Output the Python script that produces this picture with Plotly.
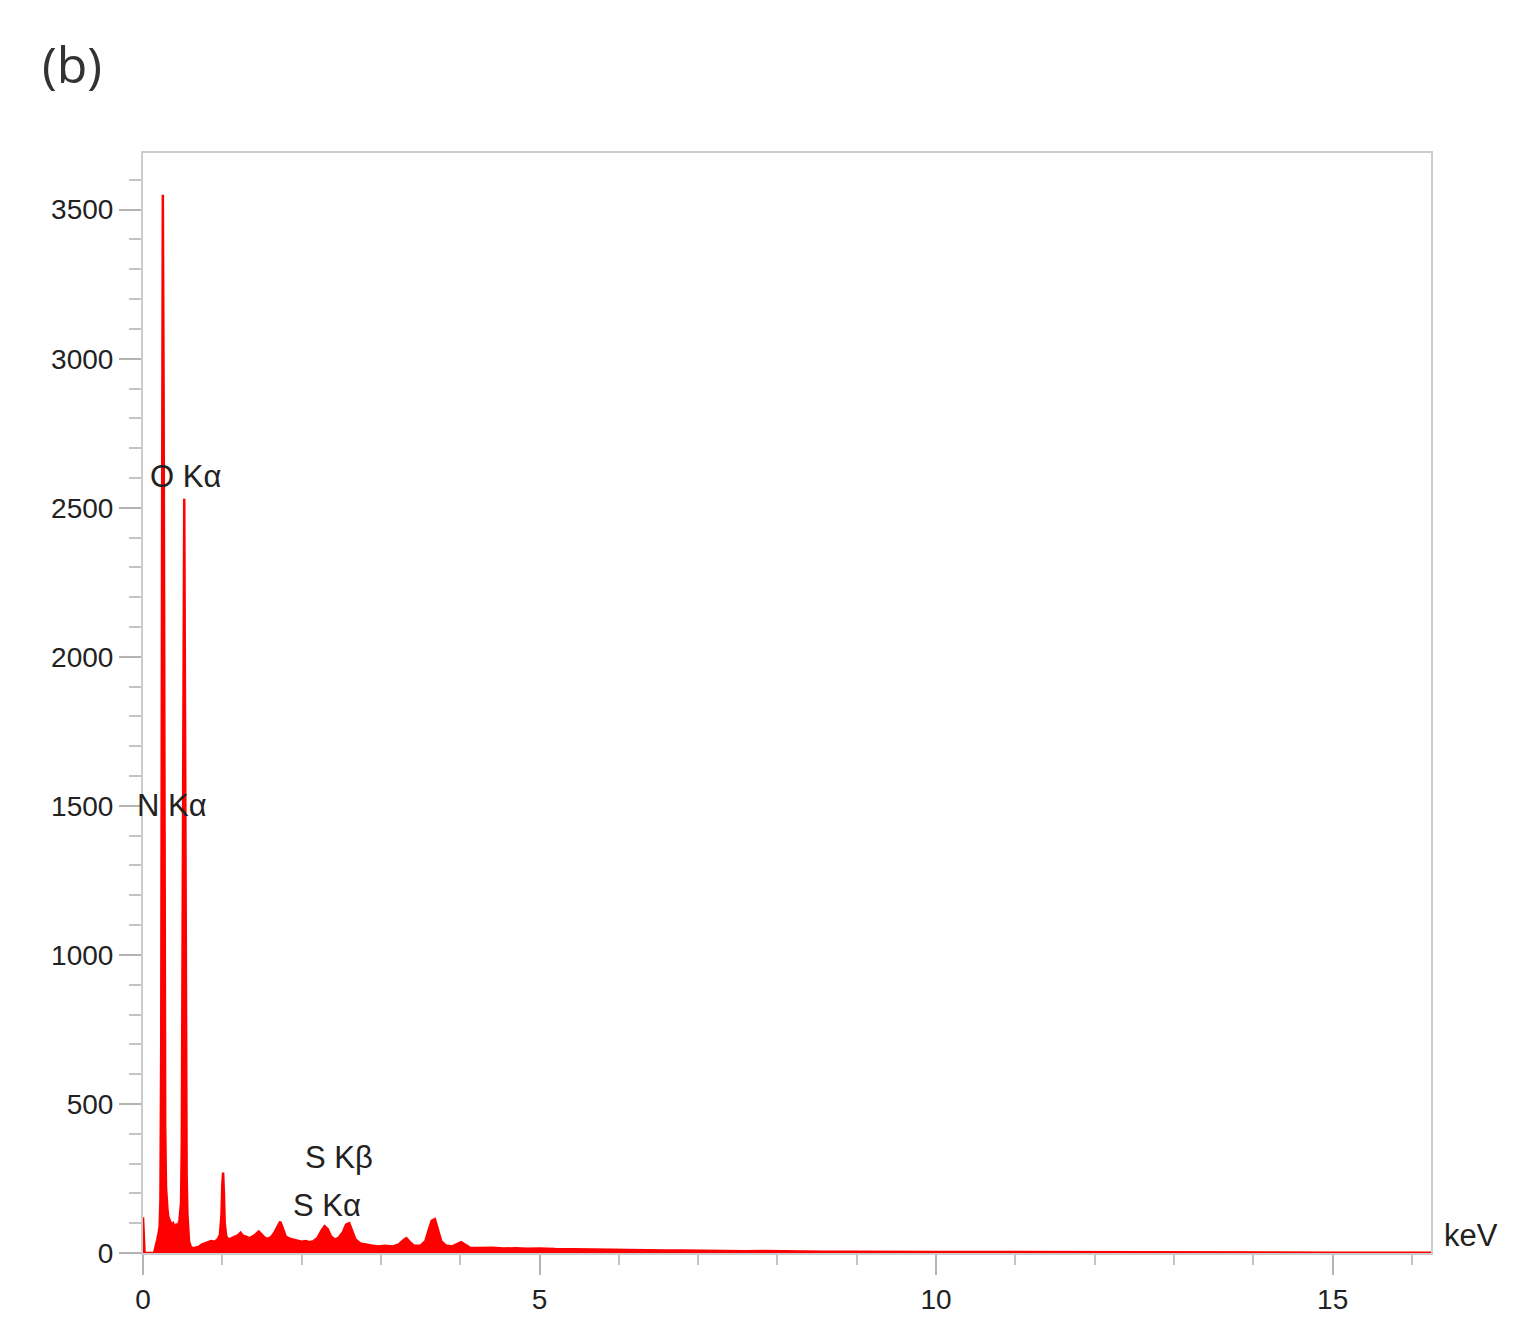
import plotly.graph_objects as go

# EDS spectrum (energy in keV, counts)
energy_keV = [
    0.00, 0.01, 0.02, 0.14, 0.16, 0.18, 0.20, 0.21, 0.22, 0.23, 0.24, 0.25, 0.26, 0.27,
    0.28, 0.29, 0.30, 0.31, 0.32, 0.34, 0.36, 0.38, 0.40, 0.42, 0.44, 0.46, 0.48, 0.49,
    0.50, 0.51, 0.52, 0.53, 0.54, 0.55, 0.56, 0.57, 0.58, 0.60, 0.63, 0.66, 0.70, 0.74,
    0.78, 0.82, 0.86, 0.90, 0.94, 0.97, 0.99, 1.00, 1.01, 1.02, 1.03, 1.05, 1.08, 1.12,
    1.16, 1.20, 1.23, 1.26, 1.30, 1.34, 1.38, 1.42, 1.46, 1.50, 1.54, 1.58, 1.62, 1.66,
    1.70, 1.73, 1.76, 1.80, 1.85, 1.90, 1.95, 2.00, 2.05, 2.10, 2.15, 2.20, 2.25, 2.29,
    2.33, 2.37, 2.42, 2.47, 2.52, 2.56, 2.60, 2.64, 2.68, 2.74, 2.80, 2.88, 2.96, 3.05,
    3.15, 3.22, 3.28, 3.32, 3.36, 3.42, 3.50, 3.56, 3.60, 3.64, 3.68, 3.72, 3.76, 3.82,
    3.90, 3.96, 4.01, 4.06, 4.12, 4.25, 4.40, 4.55, 4.70, 4.85, 5.00, 5.20, 5.40, 5.60,
    5.80, 6.00, 6.20, 6.40, 6.60, 6.80, 7.00, 7.20, 7.40, 7.60, 7.80, 8.00, 8.30, 8.60,
    9.00, 9.50, 10.0, 11.0, 12.0, 13.0, 14.0, 15.0, 16.0, 16.24,
]
counts = [
    120, 40, 0, 0, 20, 45, 70, 90, 180, 700, 2300, 3550, 2860, 1300,
    420, 220, 160, 140, 120, 110, 95, 100, 85, 95, 90, 110, 170, 380,
    1100, 2150, 2530, 1800, 700, 260, 130, 70, 40, 22, 15, 18, 20, 28,
    32, 35, 40, 38, 45, 60, 130, 230, 270, 200, 100, 55, 45, 50,
    55, 60, 68, 58, 55, 50, 55, 62, 72, 60, 50, 48, 55, 70,
    90, 105, 85, 55, 48, 45, 40, 38, 40, 36, 40, 50, 75, 90,
    80, 55, 45, 52, 70, 95, 100, 75, 45, 32, 28, 25, 22, 24,
    22, 28, 42, 50, 38, 24, 25, 40, 75, 108, 114, 80, 40, 25,
    22, 30, 36, 28, 18, 17, 18, 15, 16, 14, 15, 13, 12, 12,
    10, 10, 9, 9, 8, 8, 7, 7, 6, 6, 7, 6, 5, 4,
    4, 3, 3, 3, 2, 2, 2, 1, 1, 1,
]

x_tick_vals = [0, 5, 10, 15]
x_tick_text = ["0", "5", "10", "15"]
y_tick_vals = [0, 500, 1000, 1500, 2000, 2500, 3000, 3500]
y_tick_text = ["0", "500", "1000", "1500", "2000", "2500", "3000", "3500"]

peak_labels = ["O Kα", "N Kα", "S Kβ", "S Kα"]
peak_label_x = [0.54, 0.36, 2.47, 2.32]
peak_label_y = [2604, 1500, 319, 158]

fig = go.Figure()
fig.add_trace(go.Scatter(
    x=energy_keV, y=counts, mode="lines",
    line=dict(color="#ff0000", width=2.5),
    fill="tozeroy", fillcolor="#ff0000",
    hoverinfo="x+y", showlegend=False,
))

label_font = dict(family="Liberation Sans, Arial", size=31, color="#222222")
for txt, xv, yv in zip(peak_labels, peak_label_x, peak_label_y):
    fig.add_annotation(x=xv, y=yv, text=txt, showarrow=False, font=label_font,
                       xanchor="center", yanchor="middle")

fig.add_annotation(xref="paper", yref="paper", x=1.0085, y=0.016, text="keV",
                   showarrow=False, xanchor="left", yanchor="middle", font=label_font)
fig.add_annotation(xref="paper", yref="paper", x=-0.08, y=1.081, text="(b)",
                   showarrow=False, xanchor="left", yanchor="middle",
                   font=dict(family="Open Sans, Noto Sans, Arial", size=50, color="#333333"))

tick_font = dict(family="Liberation Sans, Arial", size=28, color="#222222")
fig.update_xaxes(
    range=[0, 16.24], tickvals=x_tick_vals, ticktext=x_tick_text,
    ticks="outside", ticklen=20, tickwidth=2, tickcolor="#b4b4b4",
    minor=dict(dtick=1, tick0=0, ticks="outside", ticklen=10, tickwidth=1.5, tickcolor="#c4c4c4", showgrid=False),
    showline=True, linecolor="#cccccc", linewidth=2, mirror=True,
    showgrid=False, zeroline=False, tickfont=tick_font,
)
fig.update_yaxes(
    range=[0, 3690], tickvals=y_tick_vals, ticktext=y_tick_text,
    ticks="outside", ticklen=22, tickwidth=2, tickcolor="#b4b4b4",
    minor=dict(dtick=100, tick0=0, ticks="outside", ticklen=12, tickwidth=1.5, tickcolor="#c4c4c4", showgrid=False),
    showline=True, linecolor="#cccccc", linewidth=2, mirror=True,
    showgrid=False, zeroline=False, tickfont=tick_font,
)
fig.update_layout(
    width=1520, height=1331,
    margin=dict(l=135, r=97, t=145, b=86),
    paper_bgcolor="white", plot_bgcolor="white",
)
fig.write_html("out.html")
